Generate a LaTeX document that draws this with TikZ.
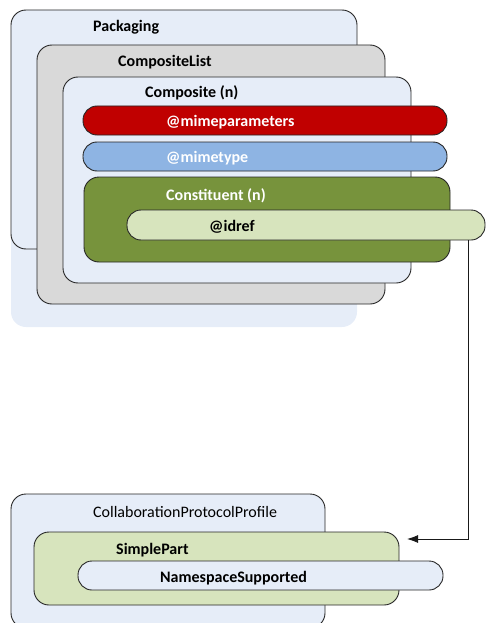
\documentclass[tikz,border=0pt]{standalone}
\usepackage{fontspec}
\setmainfont{Carlito}
\usepackage{tikz}
\usetikzlibrary{arrows.meta}
\definecolor{paleblue}{HTML}{E6EDF8}
\definecolor{lightgray}{HTML}{D9D9D9}
\definecolor{darkred}{HTML}{C00000}
\definecolor{midblue}{HTML}{8EB4E3}
\definecolor{olive}{HTML}{77933C}
\definecolor{palegreen}{HTML}{D7E4BD}
\tikzset{
  box/.style={draw=black!85, line width=0.9pt, rounded corners=15pt, inner sep=0pt},
  pill/.style={box, rounded corners=14pt},
  lbl/.style={anchor=base west, inner sep=0pt, font=\fontsize{16}{19}\selectfont\bfseries},
  conn/.style={-{Latex[length=11pt,width=8pt]}, line width=0.9pt, draw=black!90}
}
\begin{document}
\begin{tikzpicture}[x=1pt, y=-1pt]
  \clip (0,0) rectangle (486,623);
  % upper group
  \node[box, draw=none, fill=paleblue, minimum width=346pt, minimum height=317pt] (pack) at (184,168.5) {};
  \draw[box] (11,10) rectangle (357,249);
  \node[lbl] (packlbl) at (93,32) {Packaging};
  \node[box, fill=lightgray, minimum width=348pt, minimum height=259pt] (clist) at (211,174.5) {};
  \node[lbl] (clistlbl) at (118,67) {CompositeList};
  \node[box, fill=paleblue, minimum width=348pt, minimum height=206pt] (comp) at (237,180) {};
  \node[lbl] (complbl) at (145,98) {Composite (n)};
  \node[pill, fill=darkred, minimum width=364pt, minimum height=29pt] (mparam) at (265,120.5) {};
  \node[lbl, text=white] (mparamlbl) at (166,126) {@mimeparameters};
  \node[pill, fill=midblue, minimum width=364pt, minimum height=29pt] (mtype) at (265,156.5) {};
  \node[lbl, text=white] (mtypelbl) at (166,162) {@mimetype};
  \node[box, fill=olive, minimum width=366pt, minimum height=85pt] (const) at (267,219.5) {};
  \node[lbl, text=white] (constlbl) at (166,200) {Constituent (n)};
  \node[pill, fill=palegreen, minimum width=358pt, minimum height=30pt] (idref) at (306,225) {};
  \node[lbl] (idreflbl) at (209,231) {@idref};
  % lower group
  \node[box, fill=paleblue, minimum width=314pt, minimum height=134pt] (cpp) at (168,561) {};
  \node[lbl, font=\fontsize{16}{19}\selectfont] (cpplbl) at (93,517) {CollaborationProtocolProfile};
  \node[box, fill=palegreen, minimum width=365pt, minimum height=73pt] (spart) at (216.5,568.5) {};
  \node[lbl] (spartlbl) at (116,554) {SimplePart};
  \node[pill, fill=paleblue, minimum width=365pt, minimum height=29pt] (nspace) at (260.5,575.5) {};
  \node[lbl] (nspacelbl) at (160,582) {NamespaceSupported};
  % reference
  \coordinate (drop) at (468,0);
  \coordinate (cppin) at (407,539);
  \draw[conn] (idref.south -| drop) |- (cppin);
\end{tikzpicture}
\end{document}
